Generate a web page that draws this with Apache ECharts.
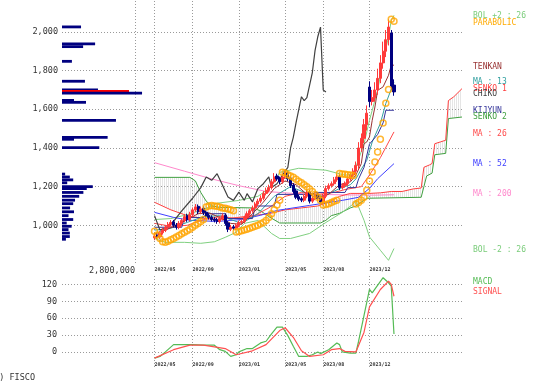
<!DOCTYPE html>
<html><head><meta charset="utf-8">
<script src="https://cdn.jsdelivr.net/npm/echarts@6/dist/echarts.min.js"></script>
<style>html,body{margin:0;padding:0;background:#fff}#c{width:546px;height:384px}</style>
</head><body><div id="c"></div>
<script>
// ---------- DATA ----------
const NCAT = 148;                       // weekly slots (incl. 26 future weeks for the cloud)
const tickIdx = [34, 48, 65, 82, 96, 113];
const tickLabels = ['2022/05', '2022/09', '2023/01', '2023/05', '2023/08', '2023/12'];
const candleStart = 34;
const opens = [935,950,940,962,975,990,1005,1018,1002,990,1010,1025,1050,1030,1055,1080,1098,1070,1088,1068,1052,1042,1032,1028,1020,1035,1052,1012,980,992,985,1000,1015,1020,1040,1060,1075,1090,1110,1125,1140,1165,1180,1195,1225,1255,1242,1225,1250,1272,1245,1208,1178,1148,1138,1130,1150,1172,1125,1140,1162,1142,1120,1150,1190,1205,1215,1235,1252,1195,1205,1215,1240,1260,1280,1310,1400,1450,1520,1715,1640,1660,1700,1760,1840,1900,1960,1995,1725];
const closes = [945,940,960,975,990,1005,1015,1000,990,1010,1025,1045,1030,1055,1080,1095,1070,1085,1065,1050,1040,1030,1025,1020,1035,1050,1010,980,990,985,1000,1015,1020,1040,1060,1075,1090,1110,1125,1140,1165,1180,1195,1225,1250,1240,1225,1250,1270,1240,1205,1175,1145,1135,1130,1150,1170,1125,1140,1160,1140,1120,1150,1190,1205,1215,1235,1250,1195,1205,1215,1240,1260,1280,1310,1400,1450,1520,1580,1640,1660,1700,1760,1840,1900,1960,2025,1720,1690];
const lows = [923,930,930,952,965,980,995,990,978,980,1000,1015,1018,1020,1045,1070,1058,1060,1053,1040,1030,1020,1015,1008,1010,1025,998,965,970,975,975,990,1005,1010,1030,1050,1065,1080,1100,1115,1130,1155,1170,1185,1215,1230,1213,1215,1240,1228,1193,1163,1135,1125,1120,1120,1140,1113,1115,1130,1130,1108,1110,1140,1180,1195,1205,1225,1183,1185,1195,1205,1230,1250,1265,1290,1380,1425,1490,1610,1620,1640,1675,1735,1810,1870,1930,1700,1670];
const highs = [960,962,970,987,1000,1017,1027,1028,1012,1022,1035,1057,1060,1070,1092,1110,1108,1097,1098,1078,1062,1052,1042,1038,1047,1062,1062,1022,1002,1002,1010,1025,1032,1050,1072,1085,1102,1120,1137,1155,1177,1195,1210,1240,1270,1267,1252,1262,1285,1282,1255,1218,1188,1158,1148,1162,1185,1182,1152,1172,1172,1152,1162,1205,1217,1227,1250,1265,1262,1217,1227,1252,1275,1295,1330,1430,1475,1550,1620,1745,1700,1740,1810,1880,1950,2010,2065,2010,1755];
const sar = [970,950,932,915,912,918,925,932,940,948,956,964,972,980,990,1000,1010,1020,1030,1095,1100,1103,1100,1098,1095,1090,1088,1085,1080,1075,965,968,972,976,980,985,990,995,1000,1008,1015,1025,1040,1060,1080,1105,1130,1274,1270,1262,1255,1248,1238,1228,1220,1210,1200,1188,1175,1160,1145,1130,1105,1108,1112,1118,1124,1130,1268,1266,1264,1262,1260,1258,1110,1118,1130,1145,1181,1229,1276,1327,1379,1445,1529,1631,1703,2066,2055];

const ma200 = [[34,1324],[45,1280],[55,1240],[65,1205],[75,1175],[85,1165],[95,1160],[105,1157],[115,1156],[122,1158]];
const ma52 = [[34,1067],[41,1041],[47,1026],[57,1020],[66,1030],[73,1052],[79,1077],[91,1103],[103,1129],[109,1145],[113,1191],[116,1241],[122,1319]];
const ma26 = [[34,1010],[40,995],[46,1000],[52,1030],[58,1045],[64,1035],[70,1045],[76,1090],[82,1150],[88,1170],[94,1160],[100,1170],[104,1185],[108,1195],[110,1200],[113,1260],[117,1350],[122,1483]];
const ma13 = [[34,975],[40,985],[46,1015],[52,1045],[58,1050],[62,1030],[66,1010],[72,1060],[78,1150],[84,1200],[90,1165],[96,1150],[102,1190],[106,1210],[108,1240],[110,1290],[112,1336],[114,1431],[117,1527],[119,1630],[122,1741]];
const bolUp = [[34,1030],[40,1035],[46,1055],[53,1088],[57,1114],[65,1129],[72,1150],[77,1200],[80,1274],[87,1295],[97,1285],[104,1259],[107,1265],[108,1301],[111,1422],[113,1543],[116,1698],[118,1853],[120,1974],[121,2060],[122,2086]];
const bolDn = [[34,932],[38,912],[45,912],[51,907],[56,915],[60,938],[64,964],[67,1010],[72,1025],[77,958],[80,932],[84,932],[91,958],[97,1015],[103,1067],[107,1110],[108,1129],[111,1026],[113,940],[117,871],[120,819],[122,880]];
const tenkan = [[34,955],[38,975],[42,1000],[46,1030],[50,1060],[54,1065],[58,1040],[62,1010],[66,1005],[70,1060],[74,1120],[78,1190],[82,1230],[86,1210],[90,1160],[94,1145],[98,1160],[102,1210],[106,1225],[108,1260],[110,1319],[111,1422],[112,1431],[113,1457],[114,1543],[115,1612],[116,1698],[118,1716],[120,1776],[121,1828],[122,1828]];
const kijun = [[34,990],[44,990],[45,1040],[52,1040],[53,1060],[60,1060],[61,1035],[70,1035],[71,1100],[78,1100],[79,1160],[92,1160],[93,1170],[104,1170],[105,1195],[108,1195],[109,1240],[111,1300],[113,1420],[116,1470],[118,1530],[119,1595],[122,1595]];
const chikou = [[34,1050],[36,975],[38,985],[41,1020],[44,1075],[48,1140],[51,1195],[53,1250],[55,1233],[57,1267],[59,1207],[61,1146],[63,1129],[65,1172],[67,1129],[68,1164],[70,1121],[72,1190],[74,1215],[76,1250],[77,1195],[79,1215],[81,1260],[83,1300],[84,1400],[85,1455],[86,1530],[88,1665],[89,1645],[90,1660],[92,1790],[93,1905],[94,1975],[95,2025],[96,1700],[97,1690]];
const senkou1 = [[34,1119],[40,1080],[46,1050],[52,1035],[58,1030],[64,1040],[70,1050],[76,1060],[82,1080],[88,1090],[94,1100],[98,1120],[102,1150],[106,1165],[113,1165],[117,1168],[121,1175],[125,1175],[129,1188],[132,1193],[133,1300],[135,1312],[136,1320],[137,1422],[139,1431],[141,1440],[142,1645],[144,1665],[147,1707]];
const senkou2 = [[34,1248],[47,1248],[49,1230],[51,1170],[53,1125],[55,1100],[58,1093],[70,1090],[73,1075],[76,1045],[80,1012],[95,1012],[97,1026],[99,1050],[102,1062],[106,1090],[108,1100],[112,1140],[132,1145],[133,1200],[134,1255],[136,1270],[137,1365],[141,1372],[142,1552],[147,1560]];
const macd = [[34,-11],[36,-8],[38,0],[41,13],[44,13],[48,13],[52,12],[56,12],[58,4],[60,1],[62,-8],[64,-5],[65,0],[68,6],[70,6],[73,16],[75,19],[77,32],[79,44],[81,44],[83,29],[85,10],[87,-8],[90,-8],[92,-5],[94,0],[95,-3],[98,4],[101,16],[102,13],[103,0],[106,-2],[108,-2],[109,19],[111,65],[113,111],[114,105],[118,132],[120,123],[121,117],[122,32]];
const signal = [[34,-11],[41,4],[47,12],[52,12],[60,6],[64,-5],[70,2],[75,13],[80,38],[82,43],[85,26],[88,2],[91,-8],[96,-5],[99,4],[102,6],[104,1],[108,0],[111,35],[113,80],[117,111],[120,126],[121,120],[122,99]];
// volume-by-price profile: price level, shares
const profilePrice = [2026,1938,1924,1848,1745,1700,1693,1684,1646,1636,1543,1455,1445,1402,1265,1250,1235,1220,1200,1190,1170,1150,1130,1112,1090,1070,1050,1030,1012,995,978,960,942,928];
const profileVol = [730000,1270000,810000,380000,880000,1380000,2570000,3070000,460000,920000,2070000,1750000,460000,1430000,120000,300000,430000,200000,1180000,950000,820000,660000,500000,430000,310000,460000,250000,430000,180000,370000,250000,300000,300000,150000];
const currentPriceLevel = 1693;
const legendItems = [
  ['BOL +2 : 26', 16, '#7acc7a'], ['PARABOLIC', 23, '#ffaa00'], ['TENKAN', 67, '#993333'],
  ['MA : 13', 82, '#33a0a0'], ['SENKO 1', 89, '#ff4040'], ['CHIKO', 94, '#404040'],
  ['KIJYUN', 111, '#333399'], ['SENKO 2', 117, '#40a040'], ['MA : 26', 134, '#ff4a4a'],
  ['MA : 52', 164, '#4040ff'], ['MA : 200', 194, '#ff88cc'], ['BOL -2 : 26', 250, '#7acc7a'],
  ['MACD', 282, '#55bb55'], ['SIGNAL', 292, '#ff5050']
];

// ---------- BUILD ----------
const cats = Array.from({length: NCAT}, (_, i) => String(i));
const candleData = cats.map((_, i) => {
  const k = i - candleStart;
  return (k >= 0 && k < closes.length) ? [opens[k], closes[k], lows[k], highs[k]] : '-';
});
const sarData = sar.map((v, k) => [candleStart + k, v]);
const profileData = profilePrice.map((p, k) => [profileVol[k], p]);

const hatch = document.createElement('canvas'); hatch.width = 2; hatch.height = 2;
const hc = hatch.getContext('2d'); hc.fillStyle = 'rgba(160,160,160,0.28)'; hc.fillRect(0, 0, 1, 2);

const MONO = '"DejaVu Sans Mono", "Liberation Mono", monospace';
const dotted = {color: '#9a9a9a', type: [1, 2], width: 1};
const isTick = (idx) => tickIdx.indexOf(idx) >= 0;
const catAxis = (gi, margin) => ({
  type: 'category', gridIndex: gi, data: cats, boundaryGap: false,
  axisLine: {show: false}, axisTick: {show: false},
  axisLabel: {interval: isTick, formatter: (v, idx) => tickLabels[tickIdx.indexOf(idx)] || '',
    fontSize: 5, fontFamily: MONO, fontWeight: 'bold', color: '#333', align: 'left', margin: margin},
  splitLine: {show: true, interval: isTick, lineStyle: dotted}
});
const line = (name, data, color, w) => ({type: 'line', name, data, xAxisIndex: 0, yAxisIndex: 0,
  symbol: 'none', lineStyle: {color, width: w || 1}, itemStyle: {color}, silent: true, z: 3});

const option = {
  animation: false,
  backgroundColor: '#fff',
  grid: [
    {left: 62, top: 1, width: 400, height: 263},
    {left: 62, top: 1, width: 73, height: 263},
    {left: 62, top: 276, width: 400, height: 92.8}
  ],
  xAxis: [
    catAxis(0, 3),
    {type: 'value', gridIndex: 1, min: 0, max: 2800000, interval: 2800000,
      axisLine: {show: false}, axisTick: {show: false},
      splitLine: {show: true, showMinLine: false, lineStyle: dotted},
      axisLabel: {formatter: v => v === 2800000 ? '2,800,000' : '', showMaxLabel: true, align: 'right',
        fontSize: 8.5, fontFamily: MONO, color: '#333', margin: 2}},
    catAxis(2, -7)
  ],
  yAxis: [
    {type: 'value', gridIndex: 0, min: 800, max: 2160, interval: 200,
      axisLine: {show: false}, axisTick: {show: false},
      splitLine: {show: true, showMinLine: false, showMaxLine: false, lineStyle: dotted},
      axisLabel: {formatter: v => (v >= 1000 && v <= 2000 && v % 200 === 0) ? v.toLocaleString('en-US') : '',
        fontSize: 8.5, fontFamily: MONO, color: '#333', margin: 4}},
    {type: 'value', gridIndex: 1, min: 800, max: 2160, show: false},
    {type: 'value', gridIndex: 2, min: -30, max: 135, interval: 30,
      axisLine: {show: false}, axisTick: {show: false},
      splitLine: {show: true, showMinLine: false, showMaxLine: false, lineStyle: dotted},
      axisLabel: {formatter: v => (v >= 0 && v <= 120 && v % 30 === 0) ? String(v) : '',
        fontSize: 8.5, fontFamily: MONO, color: '#333', margin: 5}}
  ],
  series: [
    {type: 'custom', xAxisIndex: 0, yAxisIndex: 0, data: [[60, 1100]], silent: true, z: 1,
      renderItem: (params, api) => {
        const pts = senkou1.map(p => api.coord(p)).concat(senkou2.slice().reverse().map(p => api.coord(p)));
        return {type: 'polygon', shape: {points: pts}, style: {fill: {image: hatch, repeat: 'repeat'}}};
      }},
    {type: 'custom', xAxisIndex: 1, yAxisIndex: 1, data: profileData, clip: false, silent: true, z: 2,
      renderItem: (params, api) => {
        const v = api.value(0), p = api.value(1);
        const a = api.coord([0, p]), b = api.coord([v, p]);
        return {type: 'rect', shape: {x: a[0], y: a[1] - 1.4, width: b[0] - a[0], height: 2.8},
          style: {fill: p === currentPriceLevel ? '#ff0000' : '#000080'}};
      }},
    line('MA200', ma200, '#ff88cc'),
    line('SENKO2', senkou2, '#40a040'),
    line('SENKO1', senkou1, '#ff4040'),
    line('BOLUP', bolUp, '#80d080'),
    line('BOLDN', bolDn, '#80d080'),
    line('MA52', ma52, '#4040ff'),
    line('MA26', ma26, '#ff4a4a'),
    line('MA13', ma13, '#33a0a0'),
    line('KIJUN', kijun, '#333399'),
    line('TENKAN', tenkan, '#993333'),
    line('CHIKOU', chikou, '#404040', 1.2),
    {type: 'candlestick', xAxisIndex: 0, yAxisIndex: 0, data: candleData, barWidth: 2.6, silent: true, z: 4,
      itemStyle: {color: '#ff3a3a', color0: '#000080', borderColor: '#ff3a3a', borderColor0: '#000080', borderWidth: 1}},
    {type: 'scatter', xAxisIndex: 0, yAxisIndex: 0, data: sarData, symbol: 'circle', symbolSize: 6, silent: true, z: 5,
      itemStyle: {color: 'rgba(255,255,255,0)', borderColor: '#ffa500', borderWidth: 1.5}},
    {type: 'line', xAxisIndex: 2, yAxisIndex: 2, data: macd, symbol: 'none', silent: true,
      lineStyle: {color: '#55bb55', width: 1.2}},
    {type: 'line', xAxisIndex: 2, yAxisIndex: 2, data: signal, symbol: 'none', silent: true,
      lineStyle: {color: '#ff5050', width: 1.2}}
  ],
  graphic: legendItems.map(([t, y, c]) => ({type: 'text', x: 473, y: y, silent: true,
      style: {text: t, fill: c, font: '8px ' + MONO, verticalAlign: 'middle', textVerticalAlign: 'middle'}}))
    .concat([{type: 'text', x: -11, y: 378, silent: true,
      style: {text: '(C) FISCO', fill: '#333', font: '8.5px ' + MONO, verticalAlign: 'middle', textVerticalAlign: 'middle'}}])
};
const chart = echarts.init(document.getElementById('c'), null, {renderer: 'canvas'});
chart.setOption(option);
</script>
</body></html>
